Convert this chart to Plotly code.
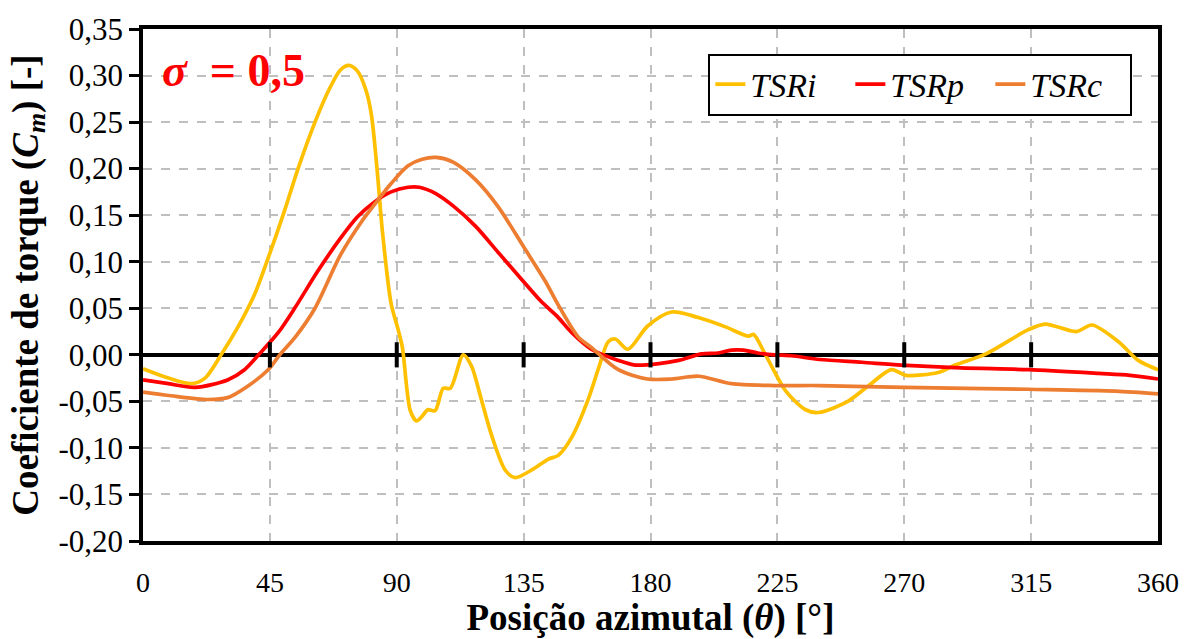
import plotly.graph_objects as go

# ---- data ----
x_ticks = [0, 45, 90, 135, 180, 225, 270, 315, 360]
y_ticks = [-0.20, -0.15, -0.10, -0.05, 0.00, 0.05, 0.10, 0.15, 0.20, 0.25, 0.30, 0.35]
y_tick_labels = ["-0,20", "-0,15", "-0,10", "-0,05", "0,00", "0,05", "0,10", "0,15",
                 "0,20", "0,25", "0,30", "0,35"]

tsri_x = [0, 9, 17, 22, 27.7, 33.7, 39.6, 44.4, 50, 55, 61, 66, 70, 73, 76, 79, 81, 83, 85, 88,
          90.5, 92, 94.8, 97, 99, 101, 103.6, 106.5, 109, 113.6, 116.5, 120, 123.6, 128.5,
          132, 137.7, 143.8, 147.3, 152, 158, 161.5, 165, 167.5, 172, 179, 187.5, 197,
          206.6, 214.8, 216.5, 220.8, 228, 235, 239.6, 250, 257, 265.5, 270.5, 282, 288,
          299, 314, 320, 331, 336.6, 346, 353, 360]
tsri_y = [-0.015, -0.025, -0.031, -0.025, 0.0, 0.030, 0.065, 0.104, 0.153, 0.200, 0.250,
          0.285, 0.306, 0.311, 0.305, 0.285, 0.258, 0.200, 0.130, 0.055,
          0.027, 0.008, -0.060, -0.071, -0.066, -0.059, -0.060, -0.036, -0.036, 0.000,
          -0.012, -0.048, -0.086, -0.124,
          -0.132, -0.124, -0.112, -0.108, -0.089, -0.047, -0.015, 0.014, 0.017, 0.006,
          0.031, 0.046, 0.040,
          0.030, 0.020, 0.022, 0.000, -0.039, -0.059, -0.062, -0.050, -0.034, -0.016,
          -0.022, -0.019, -0.011,
          0.001, 0.027, 0.033, 0.025, 0.032, 0.014, -0.006, -0.016]

tsrp_x = [0, 9, 18.5, 30, 36, 41, 48, 54, 62, 70, 76, 82, 88, 94, 98, 104, 110, 118, 126,
          134, 141, 147, 152, 159, 168.6, 174.6, 183, 190, 198, 204, 208.7, 213, 218, 224,
          230, 240, 255, 269, 290, 314, 339, 350, 360]
tsrp_y = [-0.027, -0.031, -0.035, -0.027, -0.016, 0.0, 0.024, 0.051, 0.090, 0.125, 0.148,
          0.164, 0.175, 0.180, 0.180, 0.173, 0.160, 0.138, 0.110,
          0.082, 0.058, 0.041, 0.024, 0.006, -0.006, -0.011, -0.0095, -0.006, 0.001, 0.002,
          0.005, 0.005, 0.002, 0.000,
          -0.001, -0.005, -0.008, -0.011, -0.014, -0.016, -0.020, -0.022, -0.026]

tsrc_x = [0, 10, 23, 30, 37, 44.4, 48.5, 54, 61, 70, 77.5, 82, 88, 94, 99, 104, 110, 118,
          126, 135, 142.7, 147, 154.4, 159, 168.6, 179, 187.5, 197, 208.7, 224, 239.6,
          270, 314, 345, 360]
tsrc_y = [-0.040, -0.044, -0.048, -0.046, -0.034, -0.016, 0.0, 0.019, 0.050, 0.107, 0.143,
          0.161, 0.184, 0.203, 0.210, 0.212, 0.207, 0.188,
          0.159, 0.116, 0.079, 0.055, 0.019, 0.008, -0.016, -0.026, -0.026, -0.023, -0.031,
          -0.033, -0.033,
          -0.035, -0.037, -0.039, -0.042]

series = [
    ("TSRi", tsri_x, tsri_y, "#FFC000"),
    ("TSRp", tsrp_x, tsrp_y, "#FF0000"),
    ("TSRc", tsrc_x, tsrc_y, "#ED7D31"),
]

FONT = "Liberation Serif, Times New Roman, serif"

fig = go.Figure()

for name, xs, ys, col in series:
    fig.add_trace(go.Scatter(
        x=xs, y=ys, name=name, mode="lines",
        line=dict(color=col, width=3.7, shape="spline", smoothing=0.8),
    ))

# small tick marks on the zero line
fig.add_trace(go.Scatter(
    x=x_ticks[1:-1], y=[0] * (len(x_ticks) - 2), mode="markers",
    marker=dict(symbol="line-ns", size=18, line=dict(color="black", width=4)),
    showlegend=False, hoverinfo="skip",
))

fig.update_layout(
    width=1194, height=639,
    margin=dict(l=143, r=36, t=25, b=96),
    paper_bgcolor="white", plot_bgcolor="white",
    font=dict(family=FONT, color="black", size=28),
    showlegend=True,
    legend=dict(
        orientation="h", x=0.557, y=0.952, xanchor="left", yanchor="top",
        bordercolor="black", borderwidth=2, bgcolor="white",
        font=dict(family=FONT, size=34, style="italic", color="black"),
        traceorder="normal", entrywidth=95,
    ),
    annotations=[dict(
        xref="paper", yref="paper", x=0.0167, y=0.919, xanchor="left", yanchor="middle",
        text="<b><i>σ</i>  = 0,5</b>", showarrow=False,
        font=dict(family=FONT, size=46, color="#FF0000"),
    )],
)

fig.update_xaxes(
    range=[0, 360], tickvals=x_ticks, ticktext=[str(v) for v in x_ticks],
    showgrid=True, gridcolor="#BFBFBF", gridwidth=1.5, griddash="dash",
    showline=True, mirror=True, linecolor="black", linewidth=3.5,
    ticks="", ticklabelstandoff=14,
    tickfont=dict(family=FONT, size=28),
    zeroline=False,
    title=dict(text="<b>Posição azimutal (<i>θ</i>) [°]</b>",
               font=dict(family=FONT, size=37), standoff=3),
)
fig.update_yaxes(
    range=[-0.2, 0.35], tickvals=y_ticks, ticktext=y_tick_labels,
    showgrid=True, gridcolor="#BFBFBF", gridwidth=1.5, griddash="dash",
    showline=True, mirror=True, linecolor="black", linewidth=3.5,
    ticks="outside", ticklen=10, tickwidth=2.5, tickcolor="black",
    tickfont=dict(family=FONT, size=31),
    zeroline=True, zerolinecolor="black", zerolinewidth=3.5,
    title=dict(text="<b>Coeficiente de torque (<i>C<sub>m</sub></i>) [-]</b>",
               font=dict(family=FONT, size=37), standoff=10),
)

fig.write_html("out.html")
